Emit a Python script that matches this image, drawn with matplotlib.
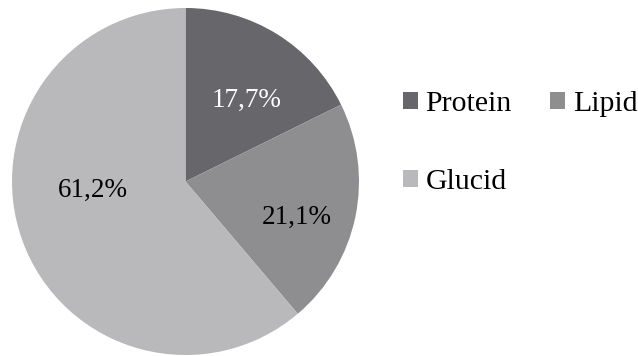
import matplotlib.pyplot as plt

categories = ['Protein', 'Lipid', 'Glucid']
shares = [17.7, 21.1, 61.2]
colors = ['#67676b', '#8e8e90', '#b9b9bb']
label_colors = ['white', 'black', 'black']

plt.rcParams['font.family'] = ['Liberation Serif', 'DejaVu Serif']

fig = plt.figure(figsize=(6.38, 3.56), dpi=100)
ax = fig.add_axes([12 / 638, 1 / 356, 347 / 638, 347 / 356])

wedges, texts, autotexts = ax.pie(
    shares, colors=colors, startangle=90, counterclock=False,
    autopct=lambda p: f'{p:.1f}%'.replace('.', ','), pctdistance=0.6,
    textprops={'fontsize': 19.5})

# label positions as placed in the original (axes fraction)
label_pos = [(0.677, 0.733), (0.82, 0.396), (0.232, 0.474)]
for t, c, (x, y) in zip(autotexts, label_colors, label_pos):
    t.set_color(c)
    t.set_position((x, y))
    t.set_transform(ax.transAxes)
ax.set_xlim(-1, 1)
ax.set_ylim(-1, 1)
ax.set_aspect('equal')

order = [0, 2, 1]
leg = fig.legend([wedges[i] for i in order], [categories[i] for i in order],
                 ncol=2, loc='center left', bbox_to_anchor=(403 / 638, 1 - 143 / 356),
                 frameon=False, fontsize=21.5, handlelength=0.5, handleheight=0.5,
                 handletextpad=0.25, labelspacing=1.75, columnspacing=1.3,
                 borderaxespad=0, borderpad=0)

fig.savefig('out.png', dpi=100)
